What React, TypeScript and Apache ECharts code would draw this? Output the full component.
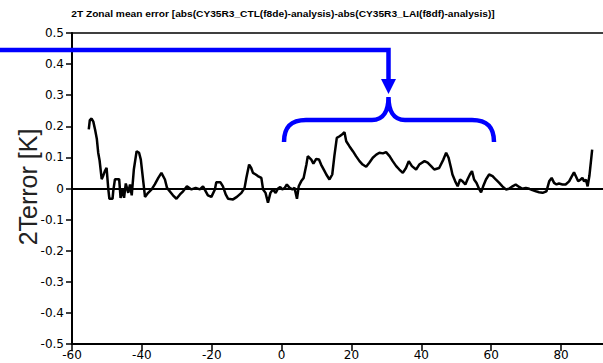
import React, { useEffect, useRef } from 'react';
import * as echarts from 'echarts';

const latitudes = [
  -55.2, -54.9, -54.4, -53.9, -53.4, -52.9, -52.5, -52.1, -51.8, -51.5, -51.1, -50.6, -50.1,
  -49.6, -49.3, -48.4, -48.2, -47.7, -46.5, -46.1, -45.5, -45.1, -44.6, -43.9, -43.4, -42.9,
  -42.3, -41.5, -40.8, -40.3, -39.6, -39.1, -38.2, -37.2, -36.3, -35.3, -34.4, -33.4, -32.8,
  -31.8, -31.1, -30.1, -29.1, -28.2, -27.1, -25.8, -24.6, -23.4, -22.5, -21.1, -20.1, -19.1,
  -18.7, -17.5, -16.8, -16.0, -15.3, -13.9, -12.8, -11.5, -10.6, -10.1, -9.3, -8.7, -8.2,
  -7.4, -6.8, -5.8, -5.3, -4.6, -3.9, -3.2, -2.5, -1.7, -1.1, -0.4, 0.2, 0.9, 1.5, 2.3, 3.1,
  3.7, 4.4, 4.9, 5.6, 6.3, 7.1, 7.5, 8.5, 9.1, 9.9, 10.7, 11.3, 12.3, 12.8, 13.7, 14.5, 15.1,
  15.8, 16.6, 17.3, 18.0, 18.5, 19.4, 20.4, 21.3, 22.3, 23.2, 24.2, 25.1, 26.1, 27.1, 28.0,
  29.0, 29.9, 30.9, 31.8, 32.8, 33.7, 34.7, 35.6, 36.4, 37.3, 38.5, 39.4, 40.9, 41.8, 42.8,
  43.7, 45.1, 46.3, 47.1, 47.8, 48.5, 48.9, 49.7, 50.4, 51.1, 51.8, 52.6, 53.2, 53.9, 54.5,
  55.1, 55.8, 56.6, 57.1, 57.7, 58.5, 59.4, 60.4, 61.3, 62.3, 63.2, 64.2, 65.1, 66.1, 67.0,
  68.0, 68.9, 69.9, 70.9, 71.8, 72.8, 73.7, 74.7, 75.8, 76.6, 77.3, 78.0, 78.7, 79.4, 80.4,
  81.3, 82.3, 83.1, 83.7, 84.2, 84.9, 85.6, 86.1, 86.6, 87.1, 87.6, 88.1, 88.6, 88.9,
];

const errorValues = [
  0.19, 0.22, 0.225, 0.215, 0.19, 0.16, 0.115, 0.09, 0.06, 0.03, 0.04, 0.056, 0.066,
  -0.003, -0.033, -0.033, -0.009, 0.03, 0.03, -0.03, -0.003, -0.03, 0.016, -0.014, 0.013, -0.022,
  0.061, 0.12, 0.115, 0.093, 0.023, -0.027, -0.014, -0.003, 0.013, 0.034, 0.05, 0.029, 0.002,
  -0.012, -0.022, -0.033, -0.019, -0.009, 0.007, -0.003, 0.002, -0.003, 0.007, -0.022, -0.027, -0.003,
  0.02, 0.02, 0.007, -0.019, -0.033, -0.035, -0.027, -0.014, 0.002, 0.034, 0.077, 0.066, 0.05,
  0.045, 0.04, 0.034, -0.003, -0.014, -0.046, -0.014, -0.003, -0.014, -0.001, 0.005, -0.003, 0.002, 0.013, 0.002, -0.003,
  0.002, -0.033, 0.007, 0.023, 0.034, 0.077, 0.104, 0.093, 0.08, 0.095, 0.093, 0.077, 0.056, 0.045, 0.029, 0.045, 0.104,
  0.163, 0.168, 0.174, 0.181, 0.152, 0.136, 0.12, 0.104, 0.088, 0.077, 0.07, 0.083, 0.099, 0.109, 0.115,
  0.113, 0.117, 0.104, 0.088, 0.072, 0.061, 0.05, 0.066, 0.088, 0.072, 0.061, 0.077, 0.088, 0.083, 0.072,
  0.061, 0.066, 0.093, 0.115, 0.099, 0.066, 0.045, 0.023, 0.007, 0.029, 0.023, 0.013, 0.029, 0.045, 0.056,
  0.029, 0.018, -0.003, -0.012, 0.007, 0.029, 0.045, 0.04, 0.029, 0.018, 0.007, -0.003, -0.001, 0.007, 0.013,
  0.005, -0.001, 0.002, -0.001, -0.005, -0.009, -0.012, -0.014, -0.009, 0.023, 0.034, 0.018, 0.013, 0.016, 0.013,
  0.013, 0.023, 0.04, 0.052, 0.04, 0.023, 0.029, 0.034, 0.023, 0.029, 0.007, 0.04, 0.093, 0.125,
];

const xTickValues = [-60, -40, -20, 0, 20, 40, 60, 80];
const yTickValues = [-0.5, -0.4, -0.3, -0.2, -0.1, 0, 0.1, 0.2, 0.3, 0.4, 0.5];
const titleText =
  '2T Zonal mean error [abs(CY35R3_CTL(f8de)-analysis)-abs(CY35R3_LAI(f8df)-analysis)]';
const yAxisName = '2Terror [K]';

const bracePath =
  'M284 142 C284 128 290 120 306 120 L372 120 C384 120 388.5 110 388.5 97 C388.5 110 393 120 405 120 L472 120 C488 120 494 128 494 142';

let braceRegistered = false;
function ensureBrace() {
  if (!braceRegistered) {
    echarts.graphic.registerShape('brace', echarts.graphic.extendPath(bracePath, {}));
    braceRegistered = true;
  }
}

export default function App() {
  const ref = useRef<HTMLDivElement>(null);

  useEffect(() => {
    if (!ref.current) return;
    ensureBrace();
    const chart = echarts.init(ref.current, undefined, { renderer: 'svg' });
    const data = latitudes.map((lat, i) => [lat, errorValues[i]]);
    const font = 'Liberation Sans';
    const tickFont = 'DejaVu Sans';
    chart.setOption({
      animation: false,
      backgroundColor: '#fff',
      grid: { left: 72, top: 33, right: 0, bottom: 19, containLabel: false },
      xAxis: [
        {
          type: 'value',
          min: -60,
          max: 92,
          position: 'bottom',
          axisLine: { show: true, onZero: false, lineStyle: { color: '#000', width: 2 } },
          axisTick: { show: true, length: 7, customValues: xTickValues, lineStyle: { color: '#000', width: 1.5 } },
          axisLabel: { customValues: xTickValues, color: '#000', fontSize: 12, fontFamily: tickFont, margin: 5 },
          splitLine: { show: false },
        },
        {
          type: 'value',
          min: -60,
          max: 92,
          position: 'top',
          axisLine: { show: true, onZero: false, lineStyle: { color: '#000', width: 1.5 } },
          axisTick: { show: false },
          axisLabel: { show: false },
          splitLine: { show: false },
        },
      ],
      yAxis: {
        type: 'value',
        min: -0.5,
        max: 0.5,
        interval: 0.1,
        axisLine: { show: true, onZero: false, lineStyle: { color: '#000', width: 2 } },
        axisTick: { show: true, length: 6, customValues: yTickValues, lineStyle: { color: '#000', width: 1.5 } },
        axisLabel: {
          customValues: yTickValues,
          color: '#000',
          fontSize: 12,
          fontFamily: tickFont,
          margin: 8,
          formatter: (v: number) => {
            const r = Math.round(v * 10) / 10;
            return r === 0 ? '0' : String(r);
          },
        },
        splitLine: { show: false },
      },
      series: [
        {
          type: 'line',
          data,
          showSymbol: false,
          symbol: 'none',
          lineStyle: { color: '#000', width: 2.5 },
          markLine: {
            silent: true,
            symbol: ['none', 'none'],
            label: { show: false },
            lineStyle: { color: '#000', width: 2, type: 'solid' },
            data: [{ yAxis: 0 }],
          },
        },
      ],
      graphic: [
        {
          type: 'text',
          x: 283,
          y: 14,
          scaleX: 1.13,
          z: 100,
          style: {
            text: titleText,
            fontSize: 9,
            fontWeight: 'bold',
            fontFamily: font,
            fill: '#000',
            textAlign: 'center',
            textVerticalAlign: 'middle',
          },
        },
        {
          type: 'text',
          x: 28,
          y: 187,
          rotation: Math.PI / 2,
          z: 100,
          style: {
            text: yAxisName,
            fontSize: 25,
            fontFamily: font,
            fill: '#222',
            textAlign: 'center',
            textVerticalAlign: 'middle',
          },
        },
        {
          type: 'polyline',
          z: 100,
          shape: { points: [[0, 50], [388.5, 50], [388.5, 82]] },
          style: { stroke: '#0000ff', lineWidth: 4.5, fill: 'none' },
        },
        {
          type: 'polygon',
          z: 100,
          shape: { points: [[381, 79], [396, 79], [388.5, 94]] },
          style: { fill: '#0000ff', stroke: 'none' },
        },
        {
          type: 'brace',
          x: 0,
          y: 0,
          scaleX: 1,
          scaleY: 1,
          z: 100,
          style: { stroke: '#0000ff', lineWidth: 4.5, fill: 'none' },
        },
      ],
    });
    return () => chart.dispose();
  }, []);

  return (
    <div
      ref={ref}
      style={{ position: 'fixed', left: 0, top: 0, width: 603, height: 363 }}
    />
  );
}
